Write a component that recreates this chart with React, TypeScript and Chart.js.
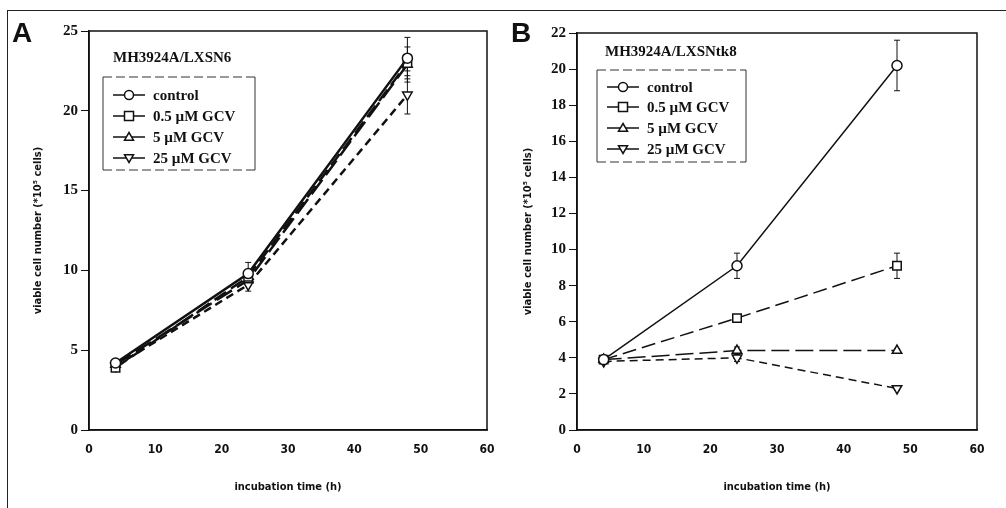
import React, { useEffect, useRef } from "react";
import { Chart, registerables } from "chart.js";

Chart.register(...registerables);

// ---------- data ----------
const hours = [4, 24, 48];
const seriesNames = ["control", "0.5 \u00b5M GCV", "5 \u00b5M GCV", "25 \u00b5M GCV"];

// Panel A: MH3924A/LXSN6
const aControl = [4.2, 9.8, 23.3];
const aHalf = [3.9, 9.6, 23.0];
const aFive = [4.1, 9.4, 22.9];
const aTwentyFive = [4.0, 9.1, 21.0];
const aControlErr = [0.2, 0.7, 1.3];
const aHalfErr = [0.1, 0.3, 0.5];
const aFiveErr = [0.1, 0.3, 1.1];
const aTwentyFiveErr = [0.1, 0.4, 1.2];
const aYTicks = [0, 5, 10, 15, 20, 25];

// Panel B: MH3924A/LXSNtk8
const bControl = [3.9, 9.1, 20.2];
const bHalf = [3.9, 6.2, 9.1];
const bFive = [3.9, 4.4, 4.4];
const bTwentyFive = [3.8, 4.0, 2.3];
const bControlErr = [0.1, 0.7, 1.4];
const bHalfErr = [0.1, 0.2, 0.7];
const bFiveErr = [0.1, 0.2, 0.1];
const bTwentyFiveErr = [0.1, 0.2, 0.1];
const bYTicks = [0, 2, 4, 6, 8, 10, 12, 14, 16, 18, 20, 22];

const xTicks = [0, 10, 20, 30, 40, 50, 60];

const INK = "#111";
const NARROW = "'Liberation Sans Narrow', 'DejaVu Sans Condensed', 'Liberation Sans', sans-serif";
const styles = [
  { pointStyle: "circle", rotation: 0, radius: 5, dash: [] as number[] },
  { pointStyle: "rect", rotation: 0, radius: 6, dash: [14, 6] },
  { pointStyle: "triangle", rotation: 0, radius: 5.5, dash: [18, 6] },
  { pointStyle: "triangle", rotation: 180, radius: 5.5, dash: [8, 5] },
];

type PanelProps = {
  left: number;
  width: number;
  title: string;
  values: number[][];
  errors: number[][];
  yTicks: number[];
  area: { left: number; right: number; top: number; bottom: number };
  yTitleX: number;
  lineWidth: number;
  legend: { x: number; y: number; w: number; h: number; rowY: number[]; titleY: number; titleX: number };
};

function drawMarker(ctx: CanvasRenderingContext2D, i: number, x: number, y: number, r: number) {
  ctx.save();
  ctx.strokeStyle = INK;
  ctx.fillStyle = "#fff";
  ctx.lineWidth = 1.5;
  ctx.beginPath();
  if (i === 0) {
    ctx.arc(x, y, r, 0, Math.PI * 2);
  } else if (i === 1) {
    ctx.rect(x - r, y - r, 2 * r, 2 * r);
  } else if (i === 2) {
    ctx.moveTo(x, y - r);
    ctx.lineTo(x + r, y + r * 0.7);
    ctx.lineTo(x - r, y + r * 0.7);
    ctx.closePath();
  } else {
    ctx.moveTo(x, y + r);
    ctx.lineTo(x + r, y - r * 0.7);
    ctx.lineTo(x - r, y - r * 0.7);
    ctx.closePath();
  }
  ctx.fill();
  ctx.stroke();
  ctx.restore();
}

function Panel(p: PanelProps) {
  const ref = useRef<HTMLCanvasElement | null>(null);
  useEffect(() => {
    const canvas = ref.current!;
    const H = 508;
    const yMax = p.yTicks[p.yTicks.length - 1];
    const datasets = p.values.map((vals, i) => ({
      label: seriesNames[i],
      data: hours.map((h, j) => ({ x: h, y: vals[j] })),
      borderColor: INK,
      borderWidth: p.lineWidth,
      borderDash: styles[i].dash,
      pointStyle: styles[i].pointStyle as any,
      pointRotation: styles[i].rotation,
      pointRadius: styles[i].radius,
      pointBorderWidth: 1.5,
      pointBackgroundColor: "#fff",
      pointBorderColor: INK,
      tension: 0,
      errors: p.errors[i],
    }));

    const frameAndErrors = {
      id: "frameAndErrors",
      beforeDatasetsDraw(chart: any) {
        const ctx = chart.ctx;
        const ys = chart.scales.y;
        const xs = chart.scales.x;
        ctx.save();
        ctx.strokeStyle = INK;
        ctx.lineWidth = 1;
        chart.data.datasets.forEach((ds: any) => {
          ds.data.forEach((pt: any, j: number) => {
            const e = ds.errors[j];
            if (!e) return;
            const x = xs.getPixelForValue(pt.x);
            const y1 = ys.getPixelForValue(pt.y + e);
            const y2 = ys.getPixelForValue(pt.y - e);
            ctx.beginPath();
            ctx.moveTo(x, y1);
            ctx.lineTo(x, y2);
            ctx.moveTo(x - 3, y1);
            ctx.lineTo(x + 3, y1);
            ctx.moveTo(x - 3, y2);
            ctx.lineTo(x + 3, y2);
            ctx.stroke();
          });
        });
        ctx.restore();
      },
      afterDraw(chart: any) {
        const ctx = chart.ctx;
        const a = chart.chartArea;
        ctx.save();
        ctx.strokeStyle = INK;
        ctx.lineWidth = 1.5;
        ctx.strokeRect(a.left, a.top, a.right - a.left, a.bottom - a.top);

        // in-plot title
        ctx.fillStyle = INK;
        ctx.font = "bold 15px 'Liberation Serif', serif";
        ctx.textAlign = "left";
        ctx.textBaseline = "middle";
        ctx.fillText(p.title, p.legend.titleX, p.legend.titleY);

        // legend box
        const L = p.legend;
        ctx.lineWidth = 1;
        ctx.strokeStyle = "#333";
        ctx.beginPath();
        ctx.moveTo(L.x, L.y);
        ctx.lineTo(L.x, L.y + L.h);
        ctx.moveTo(L.x + L.w, L.y);
        ctx.lineTo(L.x + L.w, L.y + L.h);
        ctx.stroke();
        ctx.setLineDash([9, 4]);
        ctx.beginPath();
        ctx.moveTo(L.x, L.y);
        ctx.lineTo(L.x + L.w, L.y);
        ctx.moveTo(L.x, L.y + L.h);
        ctx.lineTo(L.x + L.w, L.y + L.h);
        ctx.stroke();
        ctx.setLineDash([]);

        seriesNames.forEach((name, i) => {
          const ry = L.rowY[i];
          const x0 = L.x + 10;
          const x1 = L.x + 42;
          const cx = (x0 + x1) / 2;
          ctx.strokeStyle = INK;
          ctx.lineWidth = 1.5;
          ctx.beginPath();
          ctx.moveTo(x0, ry);
          ctx.lineTo(x1, ry);
          ctx.stroke();
          drawMarker(ctx, i, cx, ry, 4.5);
          ctx.fillStyle = INK;
          ctx.font = "bold 15px 'Liberation Serif', serif";
          ctx.textAlign = "left";
          ctx.textBaseline = "middle";
          ctx.fillText(name, L.x + 50, ry + 1);
        });
        ctx.restore();
      },
    };

    const chart = new Chart(canvas, {
      type: "line",
      data: { datasets: datasets as any },
      options: {
        animation: false,
        responsive: false,
        devicePixelRatio: 1,
        layout: {
          padding: { top: p.area.top, right: p.width - p.area.right, bottom: 0, left: 0 },
        },
        plugins: { legend: { display: false }, tooltip: { enabled: false } },
        scales: {
          x: {
            type: "linear",
            min: 0,
            max: 60,
            afterBuildTicks: (s: any) => {
              s.ticks = xTicks.map((v) => ({ value: v }));
            },
            afterFit: (s: any) => {
              s.height = H - p.area.bottom;
            },
            grid: { display: true, drawOnChartArea: false, drawTicks: true, tickLength: 11, color: "rgba(0,0,0,0)" },
            border: { display: true, color: INK, width: 1.5 },
            ticks: {
              color: INK,
              padding: 2,
              maxRotation: 0,
              font: { family: NARROW, weight: "bold", size: 12 },
            },
            title: {
              display: true,
              text: "incubation time (h)",
              color: INK,
              padding: { top: 0, bottom: 14 },
              font: { family: NARROW, weight: "bold", size: 11 },
            },
          },
          y: {
            type: "linear",
            min: 0,
            max: yMax,
            afterBuildTicks: (s: any) => {
              s.ticks = p.yTicks.map((v) => ({ value: v }));
            },
            afterFit: (s: any) => {
              s.width = p.area.left;
            },
            grid: { display: true, drawOnChartArea: false, drawTicks: true, tickLength: 8, color: INK, lineWidth: 1 },
            border: { display: true, color: INK, width: 1.5 },
            ticks: {
              color: INK,
              padding: 3,
              font: { family: "'Liberation Serif', serif", weight: "bold", size: 15 },
            },
            title: {
              display: true,
              text: "viable cell number (*10\u2075 cells)",
              color: INK,
              padding: { top: p.yTitleX - 6.6, bottom: 0 },
              font: { family: NARROW, weight: "bold", size: 11 },
            },
          },
        },
      } as any,
      plugins: [frameAndErrors],
    });
    return () => chart.destroy();
  }, []);
  return (
    <canvas
      ref={ref}
      width={p.width}
      height={508}
      style={{ position: "absolute", left: p.left, top: 0, width: p.width, height: 508 }}
    />
  );
}

export default function App() {
  const letter: React.CSSProperties = {
    position: "absolute",
    top: 19,
    fontFamily: "'Liberation Sans', Arial, sans-serif",
    fontWeight: "bold",
    fontSize: 28,
    lineHeight: 1,
    color: "#111",
  };
  return (
    <div
      style={{
        position: "absolute",
        left: 0,
        top: 0,
        width: 1006,
        height: 508,
        overflow: "hidden",
        background: "#fff",
      }}
    >
      <div
        style={{
          position: "absolute",
          left: 7,
          top: 10,
          width: 1100,
          height: 600,
          border: "1.5px solid #222",
        }}
      />
      <Panel
        left={0}
        width={500}
        title="MH3924A/LXSN6"
        values={[aControl, aHalf, aFive, aTwentyFive]}
        errors={[aControlErr, aHalfErr, aFiveErr, aTwentyFiveErr]}
        yTicks={aYTicks}
        area={{ left: 89, right: 487, top: 31, bottom: 430 }}
        yTitleX={38}
        lineWidth={2.5}
        legend={{ x: 103, y: 77, w: 152, h: 93, rowY: [95, 116, 137, 158], titleY: 58, titleX: 113 }}
      />
      <Panel
        left={500}
        width={506}
        title="MH3924A/LXSNtk8"
        values={[bControl, bHalf, bFive, bTwentyFive]}
        errors={[bControlErr, bHalfErr, bFiveErr, bTwentyFiveErr]}
        yTicks={bYTicks}
        area={{ left: 77, right: 477, top: 33, bottom: 430 }}
        yTitleX={28}
        lineWidth={1.5}
        legend={{ x: 97, y: 70, w: 149, h: 92, rowY: [87, 107, 128, 149], titleY: 52, titleX: 105 }}
      />
      <div style={{ ...letter, left: 12 }}>A</div>
      <div style={{ ...letter, left: 511 }}>B</div>
    </div>
  );
}
